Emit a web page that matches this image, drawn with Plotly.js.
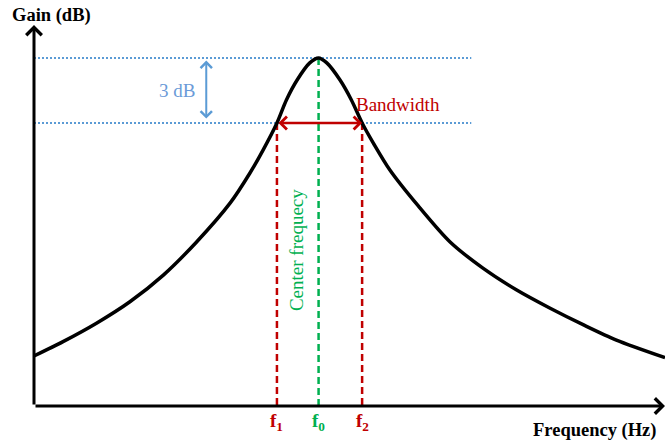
<!DOCTYPE html>
<html>
<head>
<meta charset="utf-8">
<script src="https://cdn.plot.ly/plotly-3.0.1.min.js"></script>
<style>html,body{margin:0;padding:0;background:#fff;}#chart{width:667px;height:445px;}</style>
</head>
<body>
<div id="chart"></div>
<script>
// Response curve (frequency in arbitrary units, gain in dB relative to peak)
const freq = [0, 0.46, 0.99, 1.52, 2.05, 2.58, 3.11, 3.42, 3.63, 3.85, 4.00, 4.17, 4.37, 4.51, 4.64, 4.85, 5.03, 5.20, 5.38, 5.64, 6.09, 6.59, 7.12, 7.65, 8.18, 8.71, 9.23, 10.0];
const gain = [-13.75, -13.09, -12.24, -11.25, -10.02, -8.48, -6.69, -5.32, -4.25, -3.0, -1.94, -1.02, -0.23, 0, -0.23, -1.02, -1.94, -3.0, -3.94, -5.17, -6.83, -8.48, -9.71, -10.71, -11.55, -12.32, -13.02, -13.83];

// Key frequencies and gains
const markerNames = ['f1', 'f0', 'f2'];
const markerFreqs = [3.85, 4.51, 5.20];
const markerTicks = ['f<sub>1</sub>', 'f<sub>0</sub>', 'f<sub>2</sub>'];
const peakGain = 0;
const halfPowerGain = -3;

// Text labels
const yTitle = 'Gain (dB)';
const xTitle = 'Frequency (Hz)';
const dropLabel = '3 dB';
const bwLabel = 'Bandwidth';
const centerLabel = 'Center frequecy';

const RED = '#c00000', GREEN = '#00b050', BLUE = '#5b9bd5', BLUE_TXT = '#6b9bd8';
const SERIF = 'Liberation Serif, Times New Roman, serif';
const X_RANGE = [0, 10];
const Y_RANGE = [-16.06, 1.52];
const yBottom = Y_RANGE[0];
const refLineEnd = 6.93;

const traces = [];
// reference (peak / -3 dB) dotted lines
[peakGain, halfPowerGain].forEach(g => {
  traces.push({x: [0, refLineEnd], y: [g, g], mode: 'lines', hoverinfo: 'skip',
    line: {color: BLUE, width: 2, dash: '2px,2px'}});
});
// vertical dashed lines
markerFreqs.forEach((f, i) => {
  const isCenter = markerNames[i] === 'f0';
  traces.push({x: [f, f], y: [isCenter ? peakGain : halfPowerGain, yBottom], mode: 'lines', hoverinfo: 'skip',
    line: {color: isCenter ? GREEN : RED, width: 2.5, dash: '7px,4px'}});
});
// response curve
traces.push({x: freq, y: gain, mode: 'lines', hoverinfo: 'skip',
  line: {color: '#000', width: 3.5, shape: 'spline', smoothing: 0.8}});

const annotations = [];
// axes arrows
annotations.push({xref: 'x', yref: 'y', axref: 'x', ayref: 'y', x: 0, y: Y_RANGE[1], ax: 0, ay: yBottom,
  text: '', showarrow: true, arrowhead: 4, arrowsize: 1, arrowwidth: 3, arrowcolor: '#000'});
annotations.push({xref: 'x', yref: 'y', axref: 'x', ayref: 'y', x: X_RANGE[1], y: yBottom, ax: 0, ay: yBottom,
  text: '', showarrow: true, arrowhead: 4, arrowsize: 1, arrowwidth: 3, arrowcolor: '#000'});
// 3 dB arrow
annotations.push({xref: 'x', yref: 'y', axref: 'x', ayref: 'y', x: 2.73, y: halfPowerGain + 0.2, ax: 2.73, ay: peakGain - 0.05,
  text: '', showarrow: true, arrowhead: 4, arrowside: 'end+start', arrowsize: 1.1, arrowwidth: 2, arrowcolor: BLUE});
annotations.push({xref: 'x', yref: 'y', x: 2.27, y: -1.48, xanchor: 'center', yanchor: 'middle', text: dropLabel, showarrow: false,
  font: {family: SERIF, size: 19, color: BLUE_TXT}});
// bandwidth arrow
annotations.push({xref: 'x', yref: 'y', axref: 'x', ayref: 'y', x: markerFreqs[2], y: halfPowerGain, ax: markerFreqs[0], ay: halfPowerGain,
  text: '', showarrow: true, arrowhead: 4, arrowside: 'end+start', arrowsize: 1, arrowwidth: 2.5, arrowcolor: RED});
annotations.push({xref: 'x', yref: 'y', x: 5.77, y: -2.17, xanchor: 'center', yanchor: 'middle', text: bwLabel, showarrow: false,
  font: {family: SERIF, size: 19, color: RED}});
// center frequency label
annotations.push({xref: 'x', yref: 'y', x: 4.17, y: -8.86, xanchor: 'center', yanchor: 'middle', text: centerLabel, textangle: -90, showarrow: false,
  font: {family: SERIF, size: 19, color: GREEN}});
// tick labels
markerFreqs.forEach((f, i) => {
  annotations.push({xref: 'x', yref: 'paper', x: f, y: 0, xanchor: 'center', yanchor: 'top', yshift: -2, showarrow: false,
    text: '<b>' + markerTicks[i] + '</b>',
    font: {family: SERIF, size: 19, color: markerNames[i] === 'f0' ? GREEN : RED}});
});
// axis titles
annotations.push({xref: 'paper', yref: 'paper', x: 0.027, y: 1.026, xanchor: 'center', yanchor: 'middle', text: '<b>' + yTitle + '</b>', showarrow: false,
  font: {family: SERIF, size: 18.5, color: '#000'}});
annotations.push({xref: 'paper', yref: 'paper', x: 0.889, y: -0.063, xanchor: 'center', yanchor: 'middle', text: '<b>' + xTitle + '</b>', showarrow: false,
  font: {family: SERIF, size: 18.5, color: '#000'}});

const layout = {
  width: 667, height: 445,
  margin: {l: 34, r: 2, t: 25, b: 39},
  paper_bgcolor: '#fff', plot_bgcolor: '#fff',
  showlegend: false,
  xaxis: {range: X_RANGE, visible: false, fixedrange: true},
  yaxis: {range: Y_RANGE, visible: false, fixedrange: true},
  annotations: annotations
};

Plotly.newPlot('chart', traces, layout, {staticPlot: true, displayModeBar: false});
</script>
</body>
</html>
